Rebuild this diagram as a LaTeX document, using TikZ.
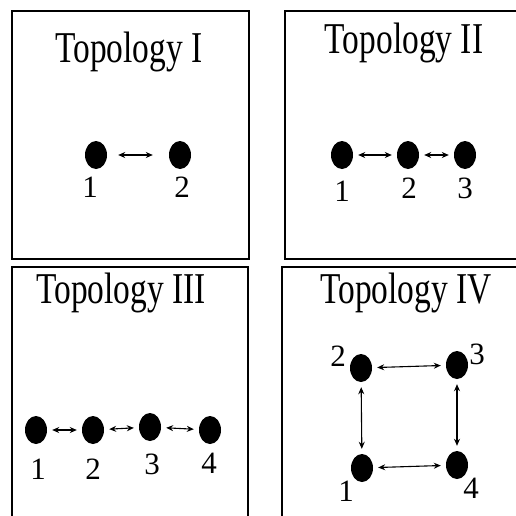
\documentclass[tikz,border=0pt]{standalone}
\usepackage{fontspec}
\setmainfont{Liberation Serif}
\newfontfamily\titlefont[FakeStretch=0.76]{Liberation Serif}
\usetikzlibrary{arrows.meta,shapes.geometric}

\begin{document}
\begin{tikzpicture}[x=1pt,y=-1pt,>={Stealth[length=7pt,width=6pt]}]
  \tikzstyle{site}=[ellipse,fill=black,draw=none,minimum width=22pt,minimum height=28pt,inner sep=0pt]
  \tikzstyle{num}=[font=\fontsize{31}{31}\selectfont,inner sep=0pt]
  \tikzstyle{title}=[font=\titlefont\fontsize{44}{44}\selectfont,anchor=base,inner sep=0pt]
  \tikzstyle{panel}=[draw=black,line width=1.3pt]
  \tikzstyle{link}=[<->,line width=1.1pt,shorten >=5pt,shorten <=5pt]

  \clip (0,0) rectangle (516,515);

  % frames
  \draw[panel] (12,11)  rectangle (249,259);
  \draw[panel] (285,11) rectangle (530,259);
  \draw[panel] (12,267) rectangle (248,530);
  \draw[panel] (282,267) rectangle (530,530);

  % Topology I
  \node[title] (tI) at (129,62) {Topology I};
  \node[site] (a1) at (96,155)  {};
  \node[site] (a2) at (180,155) {};
  \node[num]  (la1) at (90,187)  {1};
  \node[num]  (la2) at (182,187) {2};
  \path[link] (a1) edge[shorten <=11pt,shorten >=16pt] (a2);

  % Topology II
  \node[title] (tII) at (404,53) {Topology II};
  \node[site] (b1) at (342,155) {};
  \node[site] (b2) at (408,155) {};
  \node[site] (b3) at (465,155) {};
  \node[num]  (lb1) at (342,191) {1};
  \node[num]  (lb2) at (409,188) {2};
  \node[num]  (lb3) at (465,188) {3};
  \path[link] (b1) edge (b2)
              (b2) edge (b3);

  % Topology III
  \node[title] (tIII) at (121,303) {Topology III};
  \node[site] (c1) at (36,430)  {};
  \node[site] (c2) at (93,430)  {};
  \node[site] (c3) at (150,427) {};
  \node[site] (c4) at (210,430) {};
  \node[num]  (lc1) at (38,469)  {1};
  \node[num]  (lc2) at (93,469)  {2};
  \node[num]  (lc3) at (152,464) {3};
  \node[num]  (lc4) at (209,463) {4};
  \path[link] (c1) edge (c2)
              (c2) edge (c3)
              (c3) edge (c4);

  % Topology IV
  \node[title] (tIV) at (406,303) {Topology IV};
  \node[site] (d2) at (361,368) {};
  \node[site] (d3) at (457,365) {};
  \node[site] (d1) at (362,468) {};
  \node[site] (d4) at (457,465) {};
  \node[num]  (ld2) at (338,356) {2};
  \node[num]  (ld3) at (477,354) {3};
  \node[num]  (ld1) at (346,491) {1};
  \node[num]  (ld4) at (471,488) {4};
  \path[link] (d2) edge (d3)
              (d1) edge (d4)
              (d2) edge (d1)
              (d3) edge (d4);
\end{tikzpicture}
\end{document}
